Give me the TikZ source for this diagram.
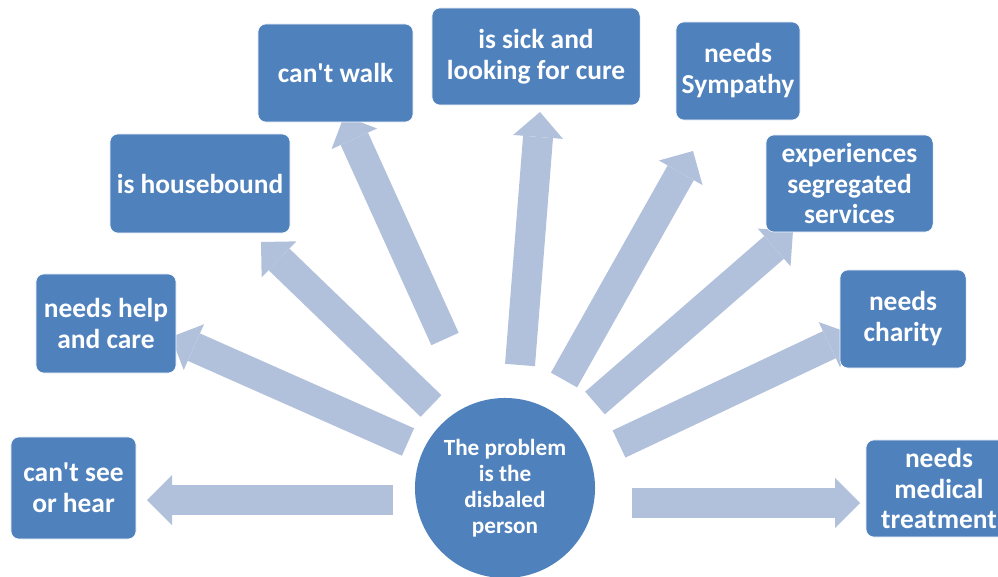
\documentclass[tikz,border=0pt]{standalone}
\usepackage{fontspec}
\setmainfont{Carlito}
\usetikzlibrary{arrows.meta}
\definecolor{boxblue}{HTML}{4F81BD}
\definecolor{spokeblue}{HTML}{B2C1DB}
\newcommand\boxfont{\fontsize{19.5}{22}\selectfont\bfseries}
\newcommand\hubfont{\fontsize{16.5}{18.5}\selectfont\bfseries}
\tikzset{
  box/.style = {draw = white, thin, fill = boxblue, rounded corners = 0.2cm,
    text = white, font = \boxfont, align = center, inner sep = 2pt},
  spoke/.style = {line width = 0.75cm, spokeblue,
    -{Triangle[length = 0.625cm, width = 1.25cm, line width = 0pt]}}
}
\begin{document}
\begin{tikzpicture}[x = 0.025cm, y = -0.025cm]
      \useasboundingbox (0,0) rectangle (998,577);
      \clip (0,0) rectangle (998,577);
      % tails and tips of the spokes
      \coordinate (s1) at (393,500);  \coordinate (e1) at (147,500);
      \coordinate (s2) at (408,442);  \coordinate (e2) at (171,337);
      \coordinate (s3) at (431,406);  \coordinate (e3) at (261,242);
      \coordinate (s4) at (445,339);  \coordinate (e4) at (344,116);
      \coordinate (s5) at (520,365);  \coordinate (e5) at (540,112);
      \coordinate (s6) at (564,380);  \coordinate (e6) at (693,151);
      \coordinate (s7) at (595,403);  \coordinate (e7) at (793,231);
      \coordinate (s8) at (619,444);  \coordinate (e8) at (852,334);
      \coordinate (s9) at (632,503);  \coordinate (e9) at (860,503);
      \foreach \i in {1,...,9}{
        \draw[spoke] (s\i) -- (e\i);
      }
      \node(hub) [circle, fill = boxblue, minimum size = 4.5cm, text = white,
        font = \hubfont, align = center] at (505,488)
        {The problem\\is the\\disbaled\\person};
      \node(seehear) [box, minimum width = 3.125cm, minimum height = 2.55cm]
        at (73.5,488) {can\textquotesingle t see\\or hear};
      \node(help) [box, minimum width = 3.5cm, minimum height = 2.475cm]
        at (106,323.5) {needs help\\and care};
      \node(house) [box, minimum width = 4.5cm, minimum height = 2.475cm]
        at (200,183.5) {is housebound};
      \node(walk) [box, minimum width = 3.875cm, minimum height = 2.45cm]
        at (335.5,73) {can\textquotesingle t walk};
      \node(sick) [box, minimum width = 5.2cm, minimum height = 2.425cm]
        at (536,56.5) {is sick and\\looking for cure};
      \node(symp) [box, minimum width = 3.1cm, minimum height = 2.45cm]
        at (738,71) {needs\\Sympathy};
      \node(segr) [box, minimum width = 4.175cm, minimum height = 2.425cm]
        at (849.5,183.5) {experiences\\segregated\\services};
      \node(char) [box, minimum width = 3.15cm, minimum height = 2.45cm]
        at (903,319) {needs\\charity};
      \node(med) [box, minimum width = 3.65cm, minimum height = 2.425cm]
        at (939,488.5) {needs\\medical\\treatment};
\end{tikzpicture}
\end{document}
